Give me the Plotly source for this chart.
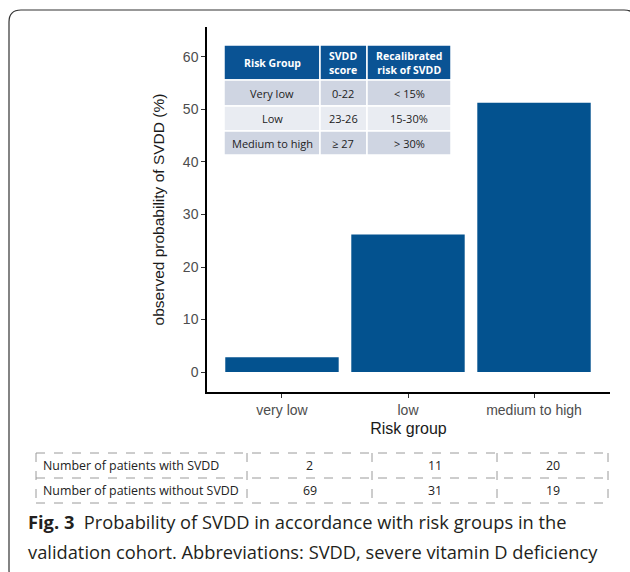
import plotly.graph_objects as go

W, H = 630, 572

# ---- data ----
risk_groups = ["very low", "low", "medium to high"]
observed_prob = [2.8, 26.2, 51.3]          # observed probability of SVDD (%)

inset_header = ["Risk Group", "SVDD<br>score", "Recalibrated<br>risk of SVDD"]
inset_risk = ["Very low", "Low", "Medium to high"]
inset_score = ["0-22", "23-26", "\u2265 27"]
inset_recal = ["< 15%", "15-30%", "> 30%"]

row_labels = ["Number of patients with SVDD", "Number of patients without SVDD"]
with_svdd = [2, 11, 20]
without_svdd = [69, 31, 19]

caption_l1 = "<b>Fig. 3</b>&nbsp;&nbsp;Probability of SVDD in accordance with risk groups in the"
caption_l2 = "validation cohort. Abbreviations: SVDD, severe vitamin D deficiency"

BAR_COLOR = "#03528f"
HEAD_COLOR = "#0a5394"
ROW_FILLS = ["#cfd5e2", "#e9ecf2", "#cfd5e2"]


def px(x):
    return x / W


def py(y):
    return 1 - y / H


fig = go.Figure()

fig.add_trace(go.Bar(
    x=risk_groups, y=observed_prob, width=0.9,
    marker=dict(color=BAR_COLOR, line=dict(width=0)),
    showlegend=False, hoverinfo="x+y",
))

shapes = []
annotations = []

# outer rounded frame
r = 12
x0, y0, x1, y1 = 9, 10, 636, 582
path = (f"M {px(x0)},{py(y0 + r)} Q {px(x0)},{py(y0)} {px(x0 + r)},{py(y0)} "
        f"L {px(x1 - r)},{py(y0)} Q {px(x1)},{py(y0)} {px(x1)},{py(y0 + r)} "
        f"L {px(x1)},{py(y1 - r)} Q {px(x1)},{py(y1)} {px(x1 - r)},{py(y1)} "
        f"L {px(x0 + r)},{py(y1)} Q {px(x0)},{py(y1)} {px(x0)},{py(y1 - r)} Z")
shapes.append(dict(type="path", xref="paper", yref="paper", path=path,
                   line=dict(color="#333333", width=1.2), fillcolor="rgba(0,0,0,0)"))

# inset table (cells as rectangles)
ic_x = [224, 320, 367, 451]
ir_y = [45, 80, 106, 131, 155]
head_font = dict(family="Open Sans", size=10.5, color="white")
cell_font = dict(family="Open Sans", size=11, color="#222222")
for j, h in enumerate(inset_header):
    shapes.append(dict(type="rect", xref="paper", yref="paper",
                       x0=px(ic_x[j]), x1=px(ic_x[j + 1]), y0=py(ir_y[1]), y1=py(ir_y[0]),
                       fillcolor=HEAD_COLOR, line=dict(color="white", width=1.5), layer="above"))
    annotations.append(dict(xref="paper", yref="paper",
                            x=px((ic_x[j] + ic_x[j + 1]) / 2), y=py((ir_y[0] + ir_y[1]) / 2),
                            text=f"<b>{h}</b>", showarrow=False, xanchor="center", yanchor="middle",
                            font=head_font))
columns = [inset_risk, inset_score, inset_recal]
for i in range(3):
    for j in range(3):
        shapes.append(dict(type="rect", xref="paper", yref="paper",
                           x0=px(ic_x[j]), x1=px(ic_x[j + 1]),
                           y0=py(ir_y[i + 2]), y1=py(ir_y[i + 1]),
                           fillcolor=ROW_FILLS[i], line=dict(color="white", width=1.5), layer="above"))
        annotations.append(dict(xref="paper", yref="paper",
                                x=px((ic_x[j] + ic_x[j + 1]) / 2), y=py((ir_y[i + 1] + ir_y[i + 2]) / 2),
                                text=columns[j][i], showarrow=False, xanchor="center", yanchor="middle",
                                font=cell_font))

# bottom dashed table
col_x = [36, 247, 372, 497, 608]
row_y = [453, 478, 503]
dash_style = dict(color="#9a9a9a", width=1, dash="dash")
for yy in row_y:
    shapes.append(dict(type="line", xref="paper", yref="paper",
                       x0=px(col_x[0]), x1=px(col_x[-1]), y0=py(yy), y1=py(yy), line=dash_style))
for xx in col_x:
    shapes.append(dict(type="line", xref="paper", yref="paper",
                       x0=px(xx), x1=px(xx), y0=py(row_y[0]), y1=py(row_y[-1]), line=dash_style))

tbl_font = dict(family="Open Sans", size=12.4, color="#222222")
for i, (lab, vals) in enumerate(zip(row_labels, [with_svdd, without_svdd])):
    yc = (row_y[i] + row_y[i + 1]) / 2
    annotations.append(dict(xref="paper", yref="paper", x=px(41), y=py(yc), text=lab,
                            showarrow=False, xanchor="left", yanchor="middle", font=tbl_font))
    for j, v in enumerate(vals):
        xc = (col_x[j + 1] + col_x[j + 2]) / 2
        annotations.append(dict(xref="paper", yref="paper", x=px(xc), y=py(yc), text=str(v),
                                showarrow=False, xanchor="center", yanchor="middle", font=tbl_font))

cap_font = dict(family="Open Sans", size=18.3, color="#231f20")
annotations.append(dict(xref="paper", yref="paper", x=px(26), y=py(521), text=caption_l1,
                        showarrow=False, xanchor="left", yanchor="middle", font=cap_font))
annotations.append(dict(xref="paper", yref="paper", x=px(26), y=py(551), text=caption_l2,
                        showarrow=False, xanchor="left", yanchor="middle", font=cap_font))

fig.update_layout(
    width=W, height=H,
    margin=dict(l=0, r=0, t=0, b=0),
    paper_bgcolor="white", plot_bgcolor="white",
    shapes=shapes, annotations=annotations,
    xaxis=dict(
        domain=[px(207), px(610)], range=[-0.595, 2.603],
        showline=True, linecolor="black", linewidth=1.5,
        ticks="outside", ticklen=4, tickcolor="#333333", tickwidth=1.2,
        tickfont=dict(family="Liberation Sans, Arial", size=14, color="#4d4d4d"),
        title=dict(text="Risk group", standoff=6,
                   font=dict(family="Liberation Sans, Arial", size=16, color="#1a1a1a")),
        showgrid=False, zeroline=False, fixedrange=True,
    ),
    yaxis=dict(
        domain=[py(392), py(27)], range=[-3.8, 65.7],
        tickvals=[0, 10, 20, 30, 40, 50, 60],
        showline=True, linecolor="black", linewidth=1.5,
        ticks="outside", ticklen=4, tickcolor="#333333", tickwidth=1.2,
        tickfont=dict(family="Liberation Sans, Arial", size=14, color="#4d4d4d"),
        title=dict(text="observed probability of SVDD (%)", standoff=14,
                   font=dict(family="Liberation Sans, Arial", size=15.5, color="#1a1a1a")),
        showgrid=False, zeroline=False, fixedrange=True,
    ),
)

fig.write_html("out.html", config={"displayModeBar": False},
               post_script="document.body.style.margin='0';")
